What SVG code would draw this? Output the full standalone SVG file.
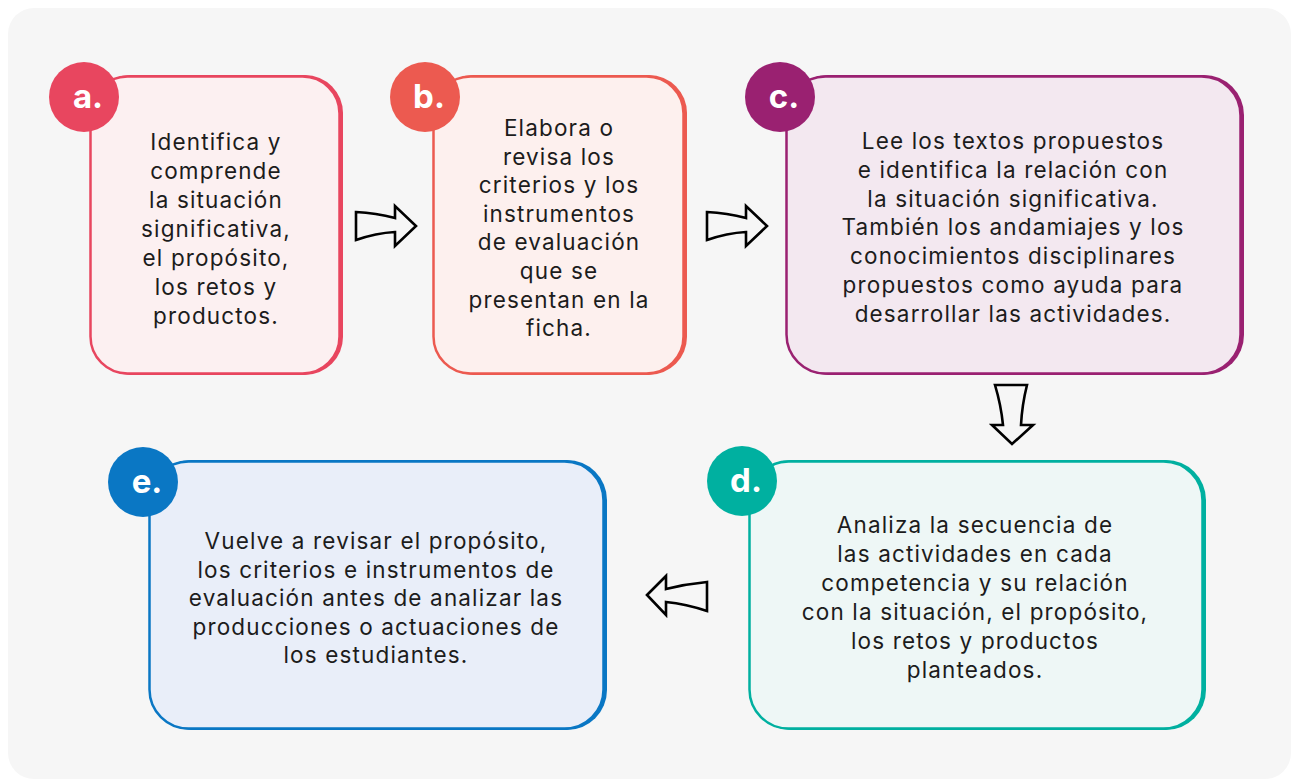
<svg xmlns="http://www.w3.org/2000/svg" width="1293" height="781" viewBox="0 0 1293 781">
<style>
.t{font-family:Inter,"Open Sans",sans-serif;font-size:22.5px;letter-spacing:1.15px;fill:#1c1c1c;text-anchor:middle}
.bl{font-family:Inter,"Open Sans",sans-serif;font-size:33px;font-weight:700;fill:#fff;text-anchor:middle}
.arr{fill:#f6f6f6;stroke:#000;stroke-width:2.6;stroke-linejoin:miter}
</style>
<rect width="1293" height="781" fill="#ffffff"/>
<rect x="8" y="8" width="1283" height="771" rx="26" fill="#f6f6f6"/>
<g id="node-a">
<rect x="92" y="75" width="251" height="300" rx="38" fill="#e8465f"/>
<rect x="90.5" y="76.5" width="249" height="297" rx="37" fill="#fcf0f1" stroke="#e8465f" stroke-width="2.5"/>
<circle cx="84" cy="97" r="35" fill="#e8465f"/>
<text class="bl" x="88" y="108">a.</text>
<text class="t"><tspan x="216" y="150">Identifica y</tspan><tspan x="216" y="179">comprende</tspan><tspan x="216" y="208">la situación</tspan><tspan x="216" y="237">significativa,</tspan><tspan x="216" y="266">el propósito,</tspan><tspan x="216" y="295">los retos y</tspan><tspan x="216" y="324">productos.</tspan></text>
</g>
<g id="node-b">
<rect x="435" y="75" width="252" height="300" rx="38" fill="#ec5a50"/>
<rect x="433.5" y="76.5" width="250" height="297" rx="37" fill="#fdf0ee" stroke="#ec5a50" stroke-width="2.5"/>
<circle cx="425" cy="97" r="35" fill="#ec5a50"/>
<text class="bl" x="429" y="108">b.</text>
<text class="t"><tspan x="559" y="136">Elabora o</tspan><tspan x="559" y="164.6">revisa los</tspan><tspan x="559" y="193.2">criterios y los</tspan><tspan x="559" y="221.8">instrumentos</tspan><tspan x="559" y="250.4">de evaluación</tspan><tspan x="559" y="279">que se</tspan><tspan x="559" y="307.6">presentan en la</tspan><tspan x="559" y="336.2">ficha.</tspan></text>
</g>
<g id="node-c">
<rect x="788" y="75" width="456" height="300" rx="40" fill="#9a2171"/>
<rect x="786.5" y="76.5" width="454" height="297" rx="39" fill="#f3e8f0" stroke="#9a2171" stroke-width="2.5"/>
<circle cx="780" cy="97" r="35" fill="#9a2171"/>
<text class="bl" x="784" y="108">c.</text>
<text class="t"><tspan x="1013" y="149">Lee los textos propuestos</tspan><tspan x="1013" y="177.8">e identifica la relación con</tspan><tspan x="1013" y="206.6">la situación significativa.</tspan><tspan x="1013" y="235.4">También los andamiajes y los</tspan><tspan x="1013" y="264.2">conocimientos disciplinares</tspan><tspan x="1013" y="293">propuestos como ayuda para</tspan><tspan x="1013" y="321.8">desarrollar las actividades.</tspan></text>
</g>
<g id="node-d">
<rect x="751" y="460" width="455" height="270" rx="40" fill="#00b0a0"/>
<rect x="749.5" y="461.5" width="453" height="267" rx="39" fill="#eef7f6" stroke="#00b0a0" stroke-width="2.5"/>
<circle cx="742" cy="481" r="35" fill="#00b0a0"/>
<text class="bl" x="746" y="492">d.</text>
<text class="t"><tspan x="975" y="533">Analiza la secuencia de</tspan><tspan x="975" y="562">las actividades en cada</tspan><tspan x="975" y="591">competencia y su relación</tspan><tspan x="975" y="620">con la situación, el propósito,</tspan><tspan x="975" y="649">los retos y productos</tspan><tspan x="975" y="678">planteados.</tspan></text>
</g>
<g id="node-e">
<rect x="151" y="460" width="456" height="270" rx="40" fill="#0a77c4"/>
<rect x="149.5" y="461.5" width="454" height="267" rx="39" fill="#e9eef9" stroke="#0a77c4" stroke-width="2.5"/>
<circle cx="143" cy="482" r="35" fill="#0a77c4"/>
<text class="bl" x="147" y="493">e.</text>
<text class="t"><tspan x="376" y="549">Vuelve a revisar el propósito,</tspan><tspan x="376" y="577.5">los criterios e instrumentos de</tspan><tspan x="376" y="606">evaluación antes de analizar las</tspan><tspan x="376" y="634.5">producciones o actuaciones de</tspan><tspan x="376" y="663">los estudiantes.</tspan></text>
</g>
<g id="connectors">
<path class="arr" d="M356,212 Q376,213 395,218 L395,206 L416,226 L395,246 L395,232 Q376,233 356,240 Z"/>
<path class="arr" d="M707,212 Q727,213 746,218 L746,206 L767,226 L746,246 L746,232 Q727,233 707,240 Z"/>
<path class="arr" d="M995,385 L1027,385 Q1022,405 1021,425 L1033,425 L1012,444 L992,425 L1003,425 Q1001,405 995,385 Z"/>
<path class="arr" d="M647,595 L666,576 L666,589 Q686,584 707,582 L707,611 Q686,604 666,602 L666,615 Z"/>
</g>
</svg>
